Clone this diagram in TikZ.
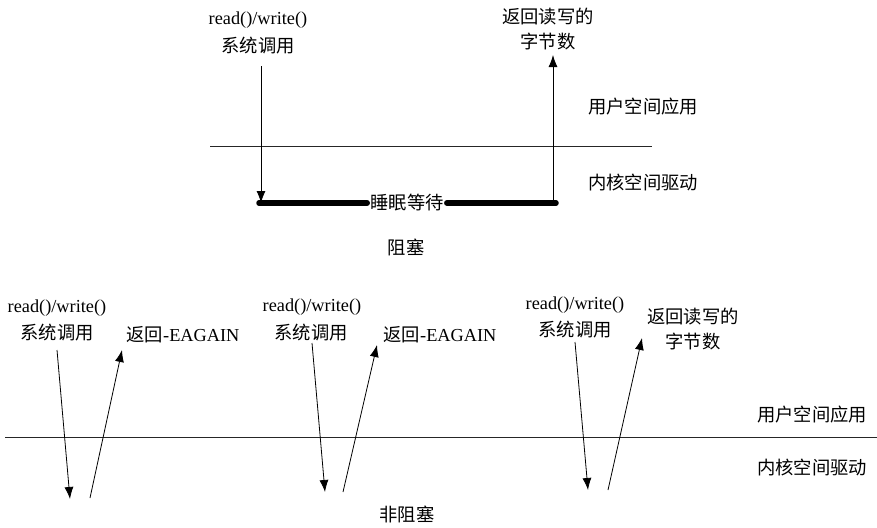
\documentclass[tikz,border=0pt]{standalone}
\usepackage{fontspec}
\setmainfont{Liberation Serif}
\newfontfamily\cjk{Noto Sans CJK SC}
\usetikzlibrary{arrows.meta}
\begin{document}
\begin{tikzpicture}[x=1pt,y=-1pt,
  lbl/.style={inner sep=0pt,font=\fontsize{18.3}{22}\selectfont,align=center},
  thin/.style={line width=0.8pt,draw=black!85},
  arr/.style={line width=0.8pt,-{Latex[length=12pt,width=9pt]}},
  bar/.style={line width=5.5pt,line cap=round}]
\useasboundingbox (0,0) rectangle (877,527);
% ---- blocking ----
\node[lbl] (t1a) at (258,20) {read()/write()};
\node[lbl] (t1b) at (258,46) {\cjk 系统调用};
\node[lbl] (r1a) at (548,17) {\cjk 返回读写的};
\node[lbl] (r1b) at (548,42) {\cjk 字节数};
\node[lbl] (u1) at (643,107) {\cjk 用户空间应用};
\node[lbl] (k1) at (643,183) {\cjk 内核空间驱动};
\node[lbl] (b1) at (406,247) {\cjk 阻塞};
\node[lbl,inner xsep=3pt] (sl) at (407,203) {\cjk 睡眠等待};
\coordinate (l1a) at (210,146);
\coordinate (l1b) at (652,146);
\draw[thin] (l1a) -- (l1b);
\coordinate (d1s) at (261,66);
\coordinate (d1e) at (261,203);
\coordinate (u1s) at (553,203);
\coordinate (u1e) at (553,55);
\draw[bar] (259,203) coordinate (bs) -- (sl.west);
\draw[bar] (sl.east) -- (556,203) coordinate (be);
\draw[arr] (d1s) -- (d1e);
\draw[arr] (u1s) -- (u1e);
% ---- non-blocking ----
\coordinate (l2a) at (5,437);
\coordinate (l2b) at (877,437);
\draw[thin] (l2a) -- (l2b);
\node[lbl] (u2) at (812,415) {\cjk 用户空间应用};
\node[lbl] (k2) at (812,468) {\cjk 内核空间驱动};
\node[lbl] (b2) at (407,514) {\cjk 非阻塞};
% group 1
\node[lbl] (g1a) at (57,308) {read()/write()};
\node[lbl] (g1b) at (57,333) {\cjk 系统调用};
\node[lbl] (g1r) at (183,335) {{\cjk 返回}-EAGAIN};
\coordinate (g1ds) at (57,350);
\coordinate (g1de) at (70,499);
\coordinate (g1us) at (90,498);
\coordinate (g1ue) at (122,350);
\draw[arr] (g1ds) -- (g1de);
\draw[arr] (g1us) -- (g1ue);
% group 2
\node[lbl] (g2a) at (312,307) {read()/write()};
\node[lbl] (g2b) at (311,333) {\cjk 系统调用};
\node[lbl] (g2r) at (440,335) {{\cjk 返回}-EAGAIN};
\coordinate (g2ds) at (312,343);
\coordinate (g2de) at (325,492);
\coordinate (g2us) at (343,492);
\coordinate (g2ue) at (377,345);
\draw[arr] (g2ds) -- (g2de);
\draw[arr] (g2us) -- (g2ue);
% group 3
\node[lbl] (g3a) at (575,305) {read()/write()};
\node[lbl] (g3b) at (575,330) {\cjk 系统调用};
\node[lbl] (g3r1) at (693,317) {\cjk 返回读写的};
\node[lbl] (g3r2) at (693,342) {\cjk 字节数};
\coordinate (g3ds) at (575,342);
\coordinate (g3de) at (588,490);
\coordinate (g3us) at (608,490);
\coordinate (g3ue) at (642,338);
\draw[arr] (g3ds) -- (g3de);
\draw[arr] (g3us) -- (g3ue);
\end{tikzpicture}
\end{document}
